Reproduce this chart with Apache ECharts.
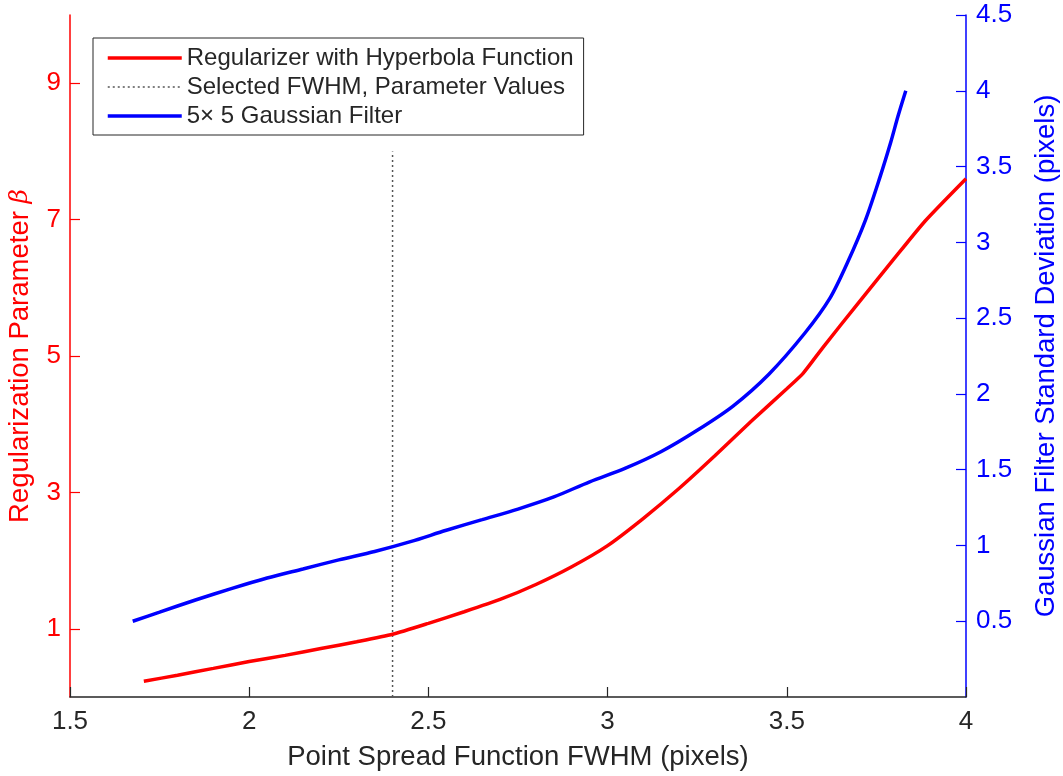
<!DOCTYPE html>
<html>
<head>
<meta charset="utf-8">
<title>PSF FWHM vs Regularization Parameter</title>
<script src="https://cdn.jsdelivr.net/npm/echarts@6/dist/echarts.min.js"></script>
<style>
  html, body { margin: 0; padding: 0; background: #fff; }
  #chart { width: 1063px; height: 776px; }
</style>
</head>
<body>
<div id="chart"></div>
<script>
// Regularization parameter beta for the hyperbola regularizer, vs PSF FWHM (pixels)
const hyperbolaFwhm = [1.706, 1.8, 1.9, 2.0, 2.1, 2.2, 2.3, 2.4, 2.5, 2.6, 2.7, 2.8, 2.9, 3.0, 3.1, 3.2, 3.3, 3.4, 3.5, 3.546, 3.6, 3.7, 3.8, 3.886, 4.0];
const hyperbolaBeta = [0.23, 0.32, 0.42, 0.52, 0.61, 0.71, 0.81, 0.92, 1.08, 1.25, 1.43, 1.65, 1.91, 2.22, 2.62, 3.06, 3.54, 4.04, 4.52, 4.75, 5.12, 5.78, 6.43, 6.98, 7.6];

// Standard deviation of the 5x5 Gaussian filter (pixels), vs PSF FWHM (pixels)
const gaussFwhm = [1.675, 1.75, 1.85, 1.95, 2.05, 2.15, 2.25, 2.35, 2.45, 2.55, 2.65, 2.75, 2.85, 2.95, 3.05, 3.15, 3.25, 3.35, 3.45, 3.55, 3.62, 3.67, 3.72, 3.76, 3.79, 3.81, 3.832];
const gaussSigma = [0.50, 0.56, 0.64, 0.715, 0.785, 0.845, 0.905, 0.96, 1.025, 1.10, 1.17, 1.24, 1.32, 1.42, 1.51, 1.62, 1.76, 1.92, 2.13, 2.40, 2.63, 2.87, 3.15, 3.43, 3.66, 3.83, 4.0];

// Selected operating point: FWHM and the top of the marker line (beta axis)
const selectedFwhm = [2.4, 2.4];
const selectedBeta = [0, 8];

// Tick values
const xTicks = [1.5, 2, 2.5, 3, 3.5, 4];
const betaTicks = [1, 3, 5, 7, 9];
const sigmaTicks = [0.5, 1, 1.5, 2, 2.5, 3, 3.5, 4, 4.5];

const seriesNames = [
  'Regularizer with Hyperbola Function',
  'Selected FWHM, Parameter Values',
  '5\u00d7 5 Gaussian Filter'
];

const FONT = '"Liberation Sans", Arial, Helvetica, sans-serif';
const RED = '#ff0000';
const BLUE = '#0000ff';
const DARK = '#262626';
const DOT = '#555555';
const CURVE_WIDTH = 3.5;

const zip = (xs, ys) => xs.map((x, i) => [x, ys[i]]);

const chart = echarts.init(document.getElementById('chart'), null, { renderer: 'canvas' });

chart.setOption({
  backgroundColor: '#ffffff',
  animation: false,
  textStyle: { fontFamily: FONT },
  grid: { left: 70, right: 97, top: 15, bottom: 79, containLabel: false, outerBoundsMode: 'none' },
  legend: {
    orient: 'vertical',
    left: 93,
    top: 38,
    padding: [8, 10, 7, 13],
    itemGap: 5,
    itemWidth: 74,
    itemHeight: 14,
    backgroundColor: '#ffffff',
    borderColor: DARK,
    borderWidth: 1,
    borderRadius: 0,
    itemStyle: { opacity: 0 },
    textStyle: { fontFamily: FONT, fontSize: 24, color: DARK },
    data: [
      { name: seriesNames[0], lineStyle: { width: CURVE_WIDTH, color: RED } },
      { name: seriesNames[1], lineStyle: { width: 1.5, color: DOT, type: [2, 3] } },
      { name: seriesNames[2], lineStyle: { width: CURVE_WIDTH, color: BLUE } }
    ]
  },
  xAxis: {
    type: 'value',
    min: 1.5,
    max: 4,
    interval: 0.5,
    name: 'Point Spread Function FWHM (pixels)',
    nameLocation: 'middle',
    nameGap: 46,
    nameTextStyle: { fontFamily: FONT, fontSize: 27.5, color: DARK },
    axisLine: { show: true, lineStyle: { color: DARK, width: 1.5 } },
    axisTick: { show: true, inside: true, length: 10, customValues: xTicks, lineStyle: { color: DARK, width: 1.2 } },
    axisLabel: { fontFamily: FONT, fontSize: 26, color: DARK, margin: 12, customValues: xTicks },
    splitLine: { show: false }
  },
  yAxis: [
    {
      type: 'value',
      position: 'left',
      min: 0,
      max: 10,
      name: 'Regularization Parameter {b|\u03b2}',
      nameLocation: 'middle',
      nameGap: 36,
      nameTextStyle: {
        fontFamily: FONT, fontSize: 27.5, color: RED,
        rich: { b: { fontFamily: '"DejaVu Serif", serif', fontStyle: 'italic', fontSize: 25, color: RED } }
      },
      axisLine: { show: true, lineStyle: { color: RED, width: 1.5 } },
      axisTick: { show: true, inside: true, length: 10, customValues: betaTicks, lineStyle: { color: RED, width: 1.2 } },
      axisLabel: { fontFamily: FONT, fontSize: 26, color: RED, margin: 9, customValues: betaTicks },
      splitLine: { show: false }
    },
    {
      type: 'value',
      position: 'right',
      min: 0,
      max: 4.5,
      name: 'Gaussian Filter Standard Deviation (pixels)',
      nameLocation: 'middle',
      nameGap: 66,
      nameTextStyle: { fontFamily: FONT, fontSize: 27.5, color: BLUE },
      axisLine: { show: true, lineStyle: { color: BLUE, width: 1.5 } },
      axisTick: { show: true, inside: true, length: 10, customValues: sigmaTicks, lineStyle: { color: BLUE, width: 1.2 } },
      axisLabel: { fontFamily: FONT, fontSize: 26, color: BLUE, margin: 10, customValues: sigmaTicks },
      splitLine: { show: false }
    }
  ],
  series: [
    {
      name: seriesNames[0],
      type: 'line',
      yAxisIndex: 0,
      data: zip(hyperbolaFwhm, hyperbolaBeta),
      symbol: 'none',
      smooth: 0.2,
      lineStyle: { color: RED, width: CURVE_WIDTH },
      itemStyle: { color: RED },
      z: 3
    },
    {
      name: seriesNames[1],
      type: 'line',
      yAxisIndex: 0,
      data: zip(selectedFwhm, selectedBeta),
      symbol: 'none',
      lineStyle: { color: DOT, width: 1.5, type: [2, 3] },
      itemStyle: { color: DOT },
      z: 2
    },
    {
      name: seriesNames[2],
      type: 'line',
      yAxisIndex: 1,
      data: zip(gaussFwhm, gaussSigma),
      symbol: 'none',
      smooth: 0.3,
      lineStyle: { color: BLUE, width: CURVE_WIDTH },
      itemStyle: { color: BLUE },
      z: 3
    }
  ]
});
</script>
</body>
</html>
